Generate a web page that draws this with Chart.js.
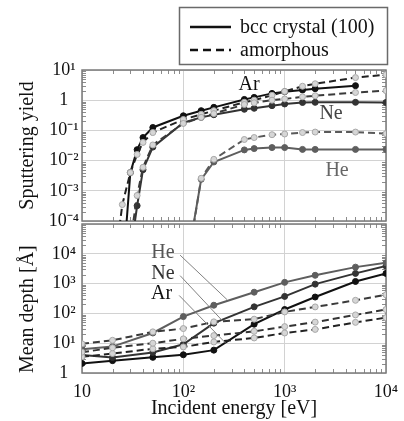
<!DOCTYPE html>
<html><head><meta charset="utf-8">
<script src="https://cdn.jsdelivr.net/npm/chart.js@4.4.0/dist/chart.umd.min.js"></script>
<style>
html,body{margin:0;padding:0;background:#fff;}
#wrap{position:relative;width:404px;height:421px;overflow:hidden;background:#fff;}
.pane{position:absolute;left:0;}
</style></head><body>
<div id="wrap">
<div class="pane" style="top:0;width:404px;height:240px"><canvas id="topc" width="404" height="240"></canvas></div>
<div class="pane" style="top:220px;width:404px;height:201px"><canvas id="botc" width="404" height="201"></canvas></div>
</div>
<script>
// ---------- DATA ----------
// Top panel: sputtering yield vs incident energy [eV]
const AR_CRY_E = [25, 30, 35, 40, 50, 100, 150, 200, 400, 500, 750, 1000, 1500, 2000, 5000];
const AR_CRY_Y = [1.3e-6, 4e-3, 0.023, 0.058, 0.125, 0.305, 0.45, 0.58, 1.06, 1.24, 1.68, 1.92, 2.18, 2.41, 3.03];
const AR_AM_E  = [20, 25, 30, 35, 40, 50, 100, 150, 200, 400, 500, 750, 1000, 1500, 2000, 5000, 10000];
const AR_AM_Y  = [1e-6, 3.5e-4, 4e-3, 0.016, 0.04, 0.085, 0.23, 0.34, 0.45, 0.85, 1.0, 1.45, 1.95, 2.9, 3.5, 5.6, 7.0];
const NE_CRY_E = [30, 35, 40, 50, 100, 150, 200, 400, 500, 750, 1000, 1500, 2000, 5000, 10000];
const NE_CRY_Y = [8e-6, 3.2e-4, 5e-3, 0.028, 0.18, 0.27, 0.33, 0.5, 0.54, 0.66, 0.75, 0.84, 0.85, 0.85, 0.84];
const NE_AM_E  = [30, 35, 40, 50, 100, 150, 200, 400, 500, 750, 1000, 1500, 2000, 5000, 10000];
const NE_AM_Y  = [2e-5, 7e-4, 6e-3, 0.033, 0.17, 0.27, 0.36, 0.72, 0.82, 1.0, 1.1, 1.3, 1.4, 1.8, 2.07];
const HE_CRY_E = [100, 150, 200, 400, 500, 750, 1000, 1500, 2000, 5000, 10000];
const HE_CRY_Y = [8e-7, 2.4e-3, 9e-3, 0.0226, 0.025, 0.027, 0.027, 0.0235, 0.0235, 0.0235, 0.0235];
const HE_AM_E  = [100, 150, 200, 400, 500, 750, 1000, 1500, 2000, 5000, 10000];
const HE_AM_Y  = [5e-7, 2.6e-3, 0.011, 0.05, 0.058, 0.072, 0.076, 0.085, 0.088, 0.088, 0.078];

// Bottom panel: mean depth [Å] vs incident energy [eV]
const DEPTH_E     = [10, 20, 50, 100, 200, 500, 1000, 2000, 5000, 10000];
const HE_CRY_D    = [6.3, 7.7, 22, 78, 188, 515, 1100, 1900, 3570, 4970];
const NE_CRY_D    = [4.0, 3.3, 4.9, 9.2, 47, 166, 372, 960, 2200, 3870];
const AR_CRY_D    = [2.1, 2.6, 3.35, 4.1, 5.85, 43.5, 135, 354, 1180, 2200];
const HE_AM_D     = [9.5, 12.5, 24, 31, 52, 64, 112, 165, 275, 420];
const NE_AM_D     = [5, 7, 10, 14, 18, 25, 36, 51, 89, 135];
const AR_AM_D     = [3.5, 4.5, 6.5, 7.5, 11, 15, 22, 29, 50, 72];

// Axis ranges / tick labels
const X_RANGE = [10, 10000];
const YIELD_RANGE = [1e-4, 10];
const DEPTH_RANGE = [1, 1e5];
const LEGEND_LABELS = ['bcc crystal (100)', 'amorphous'];

// ---------- helpers ----------
const FONT = '"Liberation Serif", "Times New Roman", Times, serif';
const SUP = {'-':'\u207B','0':'\u2070','1':'\u00B9','2':'\u00B2','3':'\u00B3','4':'\u2074','5':'\u2075','6':'\u2076','7':'\u2077','8':'\u2078','9':'\u2079'};
function decade(v){ const e = Math.log10(v); const r = Math.round(e); return Math.abs(e - r) < 1e-6 ? r : null; }
function sup(n){ return String(n).split('').map(c => SUP[c]).join(''); }
function yLabel(max){ return function(v){ const d = decade(v); if (d === null || v >= max*0.999) return ''; return d === 0 ? '1' : '10' + sup(d); }; }
function yLabelTop(v){ const d = decade(v); if (d === null) return ''; return d === 0 ? '1' : '10' + sup(d); }
function xLabel(v){ const d = decade(v); if (d === null) return ''; return d === 1 ? '10' : '10' + sup(d); }
function gridColor(c){ return decade(c.tick.value) !== null ? '#d2d2d2' : 'rgba(0,0,0,0)'; }
function pts(xs, ys){ return xs.map((x, i) => ({x: x, y: ys[i]})); }
function isMinorInt(v){ const e = Math.floor(Math.log10(v) + 1e-9); const s = v / Math.pow(10, e); return Math.abs(s - Math.round(s)) < 1e-6 && Math.round(s) >= 2 && Math.round(s) <= 9; }

function ds(data, opts){
  return Object.assign({data: data, fill: false, tension: 0, borderWidth: 2, pointRadius: 3, pointBorderWidth: 1, pointHoverRadius: 3}, opts);
}
const cry = (c) => ({borderColor: c, pointBackgroundColor: c, pointBorderColor: c});
const am = (c) => ({borderColor: c, borderDash: [7, 4], pointBackgroundColor: '#d6d6d6', pointBorderColor: '#a8a8a8'});

// frame + inner minor ticks
const framePlugin = {
  id: 'frame',
  beforeDatasetsDraw(chart){
    const {ctx, chartArea: a, scales} = chart;
    ctx.save();
    ctx.strokeStyle = '#8c8c8c'; ctx.lineWidth = 1;
    ctx.beginPath();
    scales.x.ticks.forEach(t => {
      if (!isMinorInt(t.value)) return;
      const p = Math.round(scales.x.getPixelForValue(t.value)) + 0.5;
      ctx.moveTo(p, a.top); ctx.lineTo(p, a.top + 4);
      ctx.moveTo(p, a.bottom); ctx.lineTo(p, a.bottom - 4);
    });
    scales.y.ticks.forEach(t => {
      if (!isMinorInt(t.value)) return;
      const p = Math.round(scales.y.getPixelForValue(t.value)) + 0.5;
      ctx.moveTo(a.left, p); ctx.lineTo(a.left + 4, p);
      ctx.moveTo(a.right, p); ctx.lineTo(a.right - 4, p);
    });
    ctx.stroke();
    ctx.lineWidth = 1.5; ctx.strokeStyle = '#7a7a7a';
    ctx.strokeRect(a.left, a.top, a.right - a.left, a.bottom - a.top);
    ctx.restore();
  }
};

// text annotations placed in data coordinates
const notePlugin = {
  id: 'notes',
  afterDatasetsDraw(chart, args, opts){
    const {ctx, scales} = chart;
    ctx.save();
    (opts.leaders || []).forEach(l => {
      ctx.strokeStyle = '#808080'; ctx.lineWidth = 1;
      ctx.beginPath();
      ctx.moveTo(scales.x.getPixelForValue(l.e0), scales.y.getPixelForValue(l.v0));
      ctx.lineTo(scales.x.getPixelForValue(l.e1), scales.y.getPixelForValue(l.v1));
      ctx.stroke();
    });
    (opts.labels || []).forEach(l => {
      ctx.font = '20px ' + FONT; ctx.fillStyle = l.color;
      ctx.textAlign = 'center'; ctx.textBaseline = 'middle';
      ctx.fillText(l.text, scales.x.getPixelForValue(l.e), scales.y.getPixelForValue(l.v));
    });
    ctx.restore();
  }
};

const legendPlugin = {
  id: 'legendBox',
  afterDraw(chart){
    const ctx = chart.ctx;
    ctx.save();
    ctx.strokeStyle = '#6a6a6a'; ctx.lineWidth = 1.5;
    ctx.strokeRect(179.5, 7.5, 208, 57);
    const rows = [{t: LEGEND_LABELS[0], dash: [], y: 27}, {t: LEGEND_LABELS[1], dash: [8, 5], y: 50}];
    rows.forEach(r => {
      ctx.setLineDash(r.dash); ctx.strokeStyle = '#111'; ctx.lineWidth = 2.5;
      ctx.beginPath(); ctx.moveTo(190, r.y); ctx.lineTo(231, r.y); ctx.stroke();
      ctx.setLineDash([]);
      ctx.fillStyle = '#111'; ctx.font = '20px ' + FONT;
      ctx.textAlign = 'left'; ctx.textBaseline = 'middle';
      ctx.fillText(r.t, 240, r.y + 1);
    });
    ctx.restore();
  }
};

const tickFont = {family: FONT, size: 18};
const titleFont = {family: FONT, size: 20};

function xScale(showTicks){
  return {
    type: 'logarithmic', min: X_RANGE[0], max: X_RANGE[1],
    ticks: {display: showTicks, autoSkip: false, maxRotation: 0, minRotation: 0, callback: xLabel, font: tickFont, color: '#111', padding: 8},
    grid: {color: gridColor, drawTicks: false, lineWidth: 1},
    border: {display: false},
    title: showTicks ? {display: true, text: 'Incident energy [eV]', font: titleFont, color: '#111', padding: {top: 0, bottom: 0}} : {display: false},
    afterFit(s){ s.height = showTicks ? 48 : 0; s.paddingLeft = 0; s.paddingRight = 0; }
  };
}

const baseOpts = {
  responsive: false, animation: false, devicePixelRatio: 1,
  plugins: {legend: {display: false}, tooltip: {enabled: false}},
};

// ---------- TOP CHART ----------
new Chart(document.getElementById('topc'), {
  type: 'line',
  data: {datasets: [
    ds(pts(HE_AM_E, HE_AM_Y), am('#5a5a5a')),
    ds(pts(NE_AM_E, NE_AM_Y), am('#3a3a3a')),
    ds(pts(AR_AM_E, AR_AM_Y), am('#222')),
    ds(pts(HE_CRY_E, HE_CRY_Y), cry('#5e5e5e')),
    ds(pts(NE_CRY_E, NE_CRY_Y), cry('#333')),
    ds(pts(AR_CRY_E, AR_CRY_Y), cry('#111')),
  ]},
  options: Object.assign({}, baseOpts, {
    layout: {padding: {top: 70, bottom: 19, left: 0, right: 18}},
    plugins: Object.assign({}, baseOpts.plugins, {
      notes: {labels: [
        {text: 'Ar', e: 446, v: 3.3, color: '#111'},
        {text: 'Ne', e: 2870, v: 0.36, color: '#444'},
        {text: 'He', e: 3290, v: 4.5e-3, color: '#666'}
      ]}
    }),
    scales: {
      x: xScale(false),
      y: {
        type: 'logarithmic', min: YIELD_RANGE[0], max: YIELD_RANGE[1],
        ticks: {autoSkip: false, callback: yLabelTop, font: tickFont, color: '#111', crossAlign: 'center', padding: 3},
        grid: {color: gridColor, drawTicks: false},
        border: {display: false},
        title: {display: true, text: 'Sputtering yield', font: titleFont, color: '#111', padding: {top: 16, bottom: 0}},
        afterFit(s){ s.width = 82; s.paddingTop = 0; s.paddingBottom = 0; }
      }
    }
  }),
  plugins: [framePlugin, notePlugin, legendPlugin]
});

// ---------- BOTTOM CHART ----------
new Chart(document.getElementById('botc'), {
  type: 'line',
  data: {datasets: [
    ds(pts(DEPTH_E, HE_AM_D), am('#3a3a3a')),
    ds(pts(DEPTH_E, NE_AM_D), am('#333')),
    ds(pts(DEPTH_E, AR_AM_D), am('#222')),
    ds(pts(DEPTH_E, HE_CRY_D), cry('#5e5e5e')),
    ds(pts(DEPTH_E, NE_CRY_D), cry('#333')),
    ds(pts(DEPTH_E, AR_CRY_D), cry('#111')),
  ]},
  options: Object.assign({}, baseOpts, {
    layout: {padding: {top: 1, bottom: 0, left: 0, right: 18}},
    plugins: Object.assign({}, baseOpts.plugins, {
      notes: {
        leaders: [
          {e0: 93, v0: 9000, e1: 270, v1: 290},
          {e0: 93, v0: 1850, e1: 245, v1: 55},
          {e0: 91, v0: 400, e1: 262, v1: 10}
        ],
        labels: [
          {text: 'He', e: 63, v: 10500, color: '#555'},
          {text: 'Ne', e: 63, v: 2200, color: '#333'},
          {text: 'Ar', e: 61, v: 450, color: '#111'}
        ]
      }
    }),
    scales: {
      x: xScale(true),
      y: {
        type: 'logarithmic', min: DEPTH_RANGE[0], max: DEPTH_RANGE[1],
        ticks: {autoSkip: false, callback: yLabel(DEPTH_RANGE[1]), font: tickFont, color: '#111', crossAlign: 'center', padding: 6},
        grid: {color: gridColor, drawTicks: false},
        border: {display: false},
        title: {display: true, text: 'Mean depth [Å]', align: 'start', font: titleFont, color: '#111', padding: {top: 16, bottom: 0}},
        afterFit(s){ s.width = 82; s.paddingTop = 0; s.paddingBottom = 0; }
      }
    }
  }),
  plugins: [framePlugin, notePlugin]
});
</script>
</body></html>
